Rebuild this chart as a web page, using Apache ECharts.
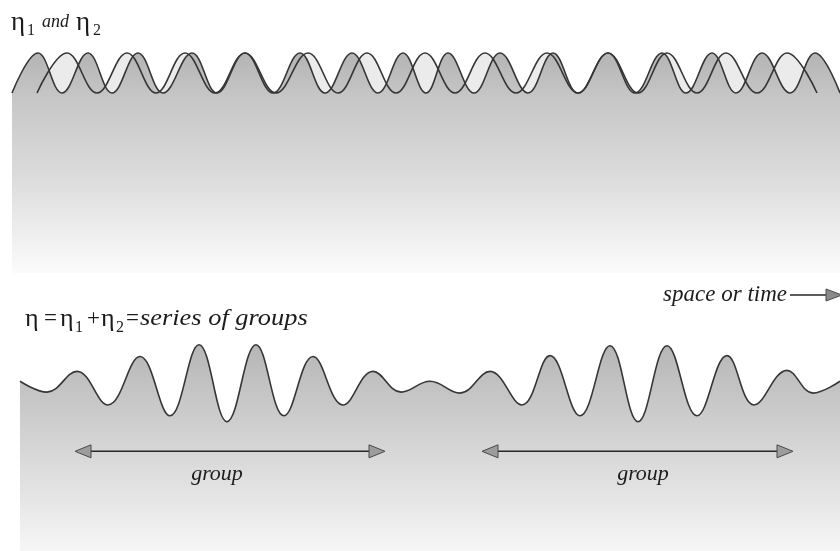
<!DOCTYPE html>
<html>
<head>
<meta charset="utf-8">
<script src="https://cdn.jsdelivr.net/npm/echarts@6/dist/echarts.min.js"></script>
<style>
  html, body { margin: 0; padding: 0; background: #ffffff; }
  #chart { width: 840px; height: 551px; }
</style>
</head>
<body>
<div id="chart"></div>
<script>
// η1: shorter component wave, crests and troughs as [distance, elevation]
const eta1Extrema = [
  [0, -1], [26, 1], [50, -1], [76, 1], [100, -1], [126, 1], [151, -1], [180, 1],
  [205, -1], [233, 1], [261, -1], [288, 1], [313, -1], [340, 1], [366, -1], [391, 1],
  [414, -1], [436, 1], [462, -1], [488, 1], [516, -1], [541, 1], [566, -1], [596, 1],
  [623, -1], [650, 1], [674, -1], [700, 1], [724, -1], [750, 1], [778, -1], [803, 1],
  [828, -1]
];
// η2: slightly longer component wave
const eta2Extrema = [
  [25, -1], [55, 1], [85, -1], [115, 1], [144, -1], [173, 1], [203, -1], [233, 1],
  [264, -1], [296, 1], [326, -1], [355, 1], [384, -1], [413, 1], [443, -1], [473, 1],
  [504, -1], [535, 1], [566, -1], [596, 1], [626, -1], [655, 1], [685, -1], [714, 1],
  [745, -1], [775, 1], [805, -1]
];
// η = η1 + η2: the resulting series of groups
const etaSumExtrema = [
  [0, 0.1], [27, -0.45], [57, 0.6], [88, -1.1], [120, 1.35], [150, -1.65], [179, 1.95],
  [207, -1.95], [236, 1.95], [264, -1.65], [293, 1.35], [323, -1.1], [353, 0.6],
  [381, -0.45], [410, 0.1], [440, -0.5], [470, 0.6], [502, -1.1], [530, 1.4],
  [560, -1.65], [590, 1.9], [618, -1.95], [647, 1.9], [677, -1.65], [707, 1.4],
  [734, -1.1], [767, 0.65], [793, -0.5], [820, 0.1]
];
// each wave group: [start, end, where its label sits]
const groupSpans = [[55, 365, 197], [462, 773, 623]];
const groupLabel = 'group';
const axisLabel = 'space or time';

const FONT = '"Liberation Serif", "Times New Roman", serif';
const INK = '#1c1c1c';
const WAVE = '#363636';
const GROUP_LEVEL = -3.45;

const chart = echarts.init(document.getElementById('chart'));

function piece(x, y, s, size, italic, stretch) {
  return {
    type: 'text', x: x, y: y, scaleX: stretch || 1, silent: true,
    style: {
      text: s, font: (italic ? 'italic ' : '') + size + 'px ' + FONT,
      fill: INK, align: 'left', verticalAlign: 'middle'
    }
  };
}

const seaShade = (top, mid, low, bottom, midAt) => new echarts.graphic.LinearGradient(0, 0, 0, 1, [
  { offset: 0, color: top },
  { offset: midAt, color: mid },
  { offset: 0.6, color: low },
  { offset: 1, color: bottom }
]);

function renderGroup(params, api) {
  const a = api.coord([api.value(0), GROUP_LEVEL]);
  const b = api.coord([api.value(1), GROUP_LEVEL]);
  const c = api.coord([api.value(2), GROUP_LEVEL]);
  const w = 16, h = 6.5;
  return {
    type: 'group',
    children: [
      { type: 'line', shape: { x1: a[0] + w, y1: a[1], x2: b[0] - w, y2: b[1] },
        style: { stroke: '#262626', lineWidth: 1.6 } },
      { type: 'polygon', shape: { points: [[a[0], a[1]], [a[0] + w, a[1] - h], [a[0] + w, a[1] + h]] },
        style: { fill: '#9c9c9c', stroke: '#4a4a4a', lineWidth: 1 } },
      { type: 'polygon', shape: { points: [[b[0], b[1]], [b[0] - w, b[1] - h], [b[0] - w, b[1] + h]] },
        style: { fill: '#9c9c9c', stroke: '#4a4a4a', lineWidth: 1 } },
      { type: 'text', x: c[0], y: a[1] + 23,
        style: { text: groupLabel, font: 'italic 22px ' + FONT, fill: INK, align: 'center', verticalAlign: 'middle' } }
    ]
  };
}

const option = {
  animation: false,
  backgroundColor: '#ffffff',
  grid: [
    { left: 12, top: 33, width: 828, height: 240 },
    { left: 20, top: 324, width: 820, height: 230 }
  ],
  xAxis: [
    { type: 'value', gridIndex: 0, min: 0, max: 828, show: false },
    { type: 'value', gridIndex: 1, min: 0, max: 820, show: false }
  ],
  yAxis: [
    { type: 'value', gridIndex: 0, min: -10, max: 2, show: false },
    { type: 'value', gridIndex: 1, min: -8.5, max: 3, show: false }
  ],
  series: [
    {
      name: 'η2', type: 'line', xAxisIndex: 0, yAxisIndex: 0, data: eta2Extrema,
      smooth: 0.4, showSymbol: false, silent: true,
      lineStyle: { color: WAVE, width: 1.6 },
      areaStyle: { origin: 'start', color: '#ebebeb', opacity: 1 }
    },
    {
      name: 'η1', type: 'line', xAxisIndex: 0, yAxisIndex: 0, data: eta1Extrema,
      smooth: 0.4, showSymbol: false, silent: true,
      lineStyle: { color: WAVE, width: 1.6 },
      areaStyle: { origin: 'start', opacity: 1,
        color: seaShade('#b4b4b4', '#c6c6c6', '#dedede', '#fbfbfb', 0.2) }
    },
    {
      name: 'η', type: 'line', xAxisIndex: 1, yAxisIndex: 1, data: etaSumExtrema,
      smooth: 0.4, showSymbol: false, silent: true,
      lineStyle: { color: WAVE, width: 1.6 },
      areaStyle: { origin: 'start', opacity: 1,
        color: seaShade('#b6b6b6', '#c9c9c9', '#dcdcdc', '#f6f6f6', 0.3) }
    },
    {
      name: 'groups', type: 'custom', xAxisIndex: 1, yAxisIndex: 1,
      data: groupSpans, renderItem: renderGroup, silent: true, z: 5
    }
  ],
  graphic: [
    // η1 and η2
    piece(11, 23, 'η', 27, false),
    piece(27, 31, '1', 16, false),
    piece(42, 22, 'and', 18, true),
    piece(76, 23, 'η', 27, false),
    piece(93, 31, '2', 16, false),
    // η = η1 + η2 = series of groups
    piece(25, 319, 'η', 26, false),
    piece(44, 319, '=', 23, false),
    piece(60, 319, 'η', 26, false),
    piece(75, 328, '1', 16, false),
    piece(87, 319, '+', 23, false),
    piece(101, 319, 'η', 26, false),
    piece(116, 328, '2', 16, false),
    piece(126, 319, '=', 23, false),
    piece(140, 319, 'series of groups', 24, true, 1.1),
    // space or time →
    {
      type: 'text', x: 787, y: 295, silent: true,
      style: { text: axisLabel, font: 'italic 23px ' + FONT, fill: INK, align: 'right', verticalAlign: 'middle' }
    },
    { type: 'line', silent: true, shape: { x1: 790, y1: 295, x2: 828, y2: 295 },
      style: { stroke: '#262626', lineWidth: 1.6 } },
    { type: 'polygon', silent: true, shape: { points: [[842, 295], [826, 289], [826, 301]] },
      style: { fill: '#8a8a8a', stroke: '#4a4a4a', lineWidth: 1 } }
  ]
};

chart.setOption(option);
</script>
</body>
</html>
